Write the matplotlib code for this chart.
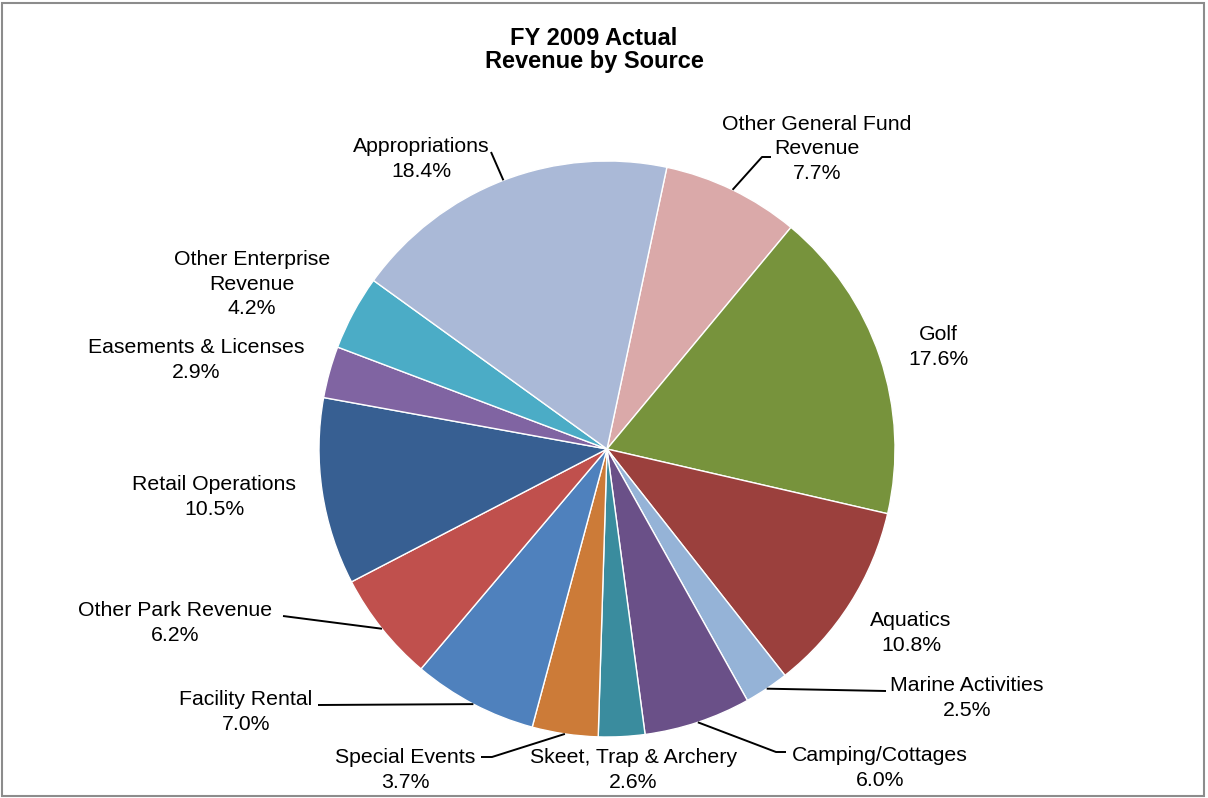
import matplotlib.pyplot as plt
import numpy as np
from matplotlib.patches import Rectangle

plt.rcParams['font.family'] = ['Liberation Sans', 'DejaVu Sans']

sources = ["Other General Fund\nRevenue", "Golf", "Aquatics", "Marine Activities",
           "Camping/Cottages", "Skeet, Trap & Archery", "Special Events",
           "Facility Rental", "Other Park Revenue", "Retail Operations",
           "Easements & Licenses", "Other Enterprise\nRevenue", "Appropriations"]
shares = [7.7, 17.6, 10.8, 2.5, 6.0, 2.6, 3.7, 7.0, 6.2, 10.5, 2.9, 4.2, 18.4]
colors = ["#DAA9A9", "#77933C", "#9B403D", "#95B3D7", "#6A5088", "#3A8C9E",
          "#CC7B38", "#4F81BD", "#C0504D", "#375F92", "#8064A2", "#4BACC6",
          "#AAB9D7"]

W, H = 1208, 798
fig = plt.figure(figsize=(W / 100, H / 100), dpi=100)
ax = fig.add_axes([0, 0, 1, 1])

cx, cy, R = 607, H - 449, 288
wedges, _ = ax.pie(shares, colors=colors, startangle=78, counterclock=False,
                   radius=R, center=(cx, cy), frame=True,
                   wedgeprops=dict(edgecolor="white", linewidth=1.0))
ax.set_xlim(0, W)
ax.set_ylim(0, H)
ax.set_aspect("equal")
ax.axis("off")

# label block centres (pixel coords from top-left) and optional leader path
label_pos = {
    0: (817, 149), 1: (938, 347), 2: (911, 633), 3: (967, 698),
    4: (880, 768), 5: (633, 770), 6: (405, 770), 7: (246, 712),
    8: (175, 623), 9: (214, 497), 10: (196, 360), 11: (252, 284),
    12: (421, 159),
}
leaders = {
    0: [(762, 157), (771, 157)],
    3: [(886, 691)],
    4: [(776, 752), (786, 752)],
    6: [(492, 757), (481, 757)],
    7: [(318, 705)],
    8: [(283, 616)],
    12: [(491, 152)],
}

for i, w in enumerate(wedges):
    x, y = label_pos[i]
    ax.text(x, H - y, f"{sources[i]}\n{shares[i]:.1f}%", ha="center", va="center",
            fontsize=15.3, linespacing=1.38, color="black")
    if i in leaders:
        mid = np.deg2rad((w.theta1 + w.theta2) / 2)
        px = [cx + R * np.cos(mid)] + [p[0] for p in leaders[i]]
        py = [cy + R * np.sin(mid)] + [H - p[1] for p in leaders[i]]
        ax.plot(px, py, color="black", linewidth=1.4, solid_capstyle="butt")

ax.text(594, H - 50, "FY 2009 Actual\nRevenue by Source", ha="center", va="center",
        fontsize=17, fontweight="bold", linespacing=1.05)

fig.patches.append(Rectangle((0.002, 0.003), 0.995, 0.993, transform=fig.transFigure,
                             fill=False, edgecolor="#8C8C8C", linewidth=1.5))

fig.savefig("out.png", dpi=100)
